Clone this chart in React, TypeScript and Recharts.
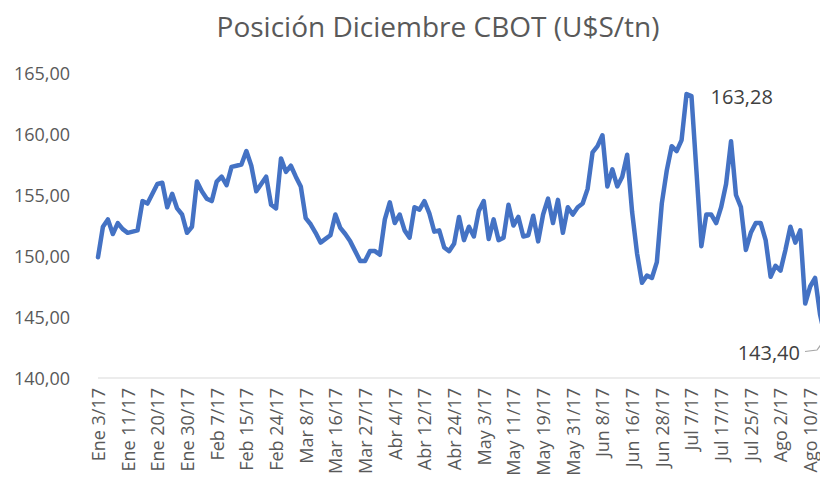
import { LineChart, Line, XAxis, YAxis } from 'recharts';

const TICK_LABELS = [
  'Ene 3/17', 'Ene 11/17', 'Ene 20/17', 'Ene 30/17', 'Feb 7/17', 'Feb 15/17', 'Feb 24/17',
  'Mar 8/17', 'Mar 16/17', 'Mar 27/17', 'Abr 4/17', 'Abr 12/17', 'Abr 24/17', 'May 3/17',
  'May 11/17', 'May 19/17', 'May 31/17', 'Jun 8/17', 'Jun 16/17', 'Jun 28/17', 'Jul 7/17',
  'Jul 17/17', 'Jul 25/17', 'Ago 2/17', 'Ago 10/17',
];
const TICK_STEP = 6;

const PRICES = [
  149.9, 152.4, 153.0, 151.8, 152.7, 152.2, 151.9, 152.0, 152.1, 154.5,
  154.3, 155.1, 155.9, 156.0, 154.0, 155.1, 153.9, 153.4, 151.9, 152.4,
  156.1, 155.3, 154.7, 154.5, 156.1, 156.5, 155.8, 157.3, 157.4, 157.5,
  158.6, 157.4, 155.3, 155.9, 156.5, 154.2, 153.9, 158.0, 156.9, 157.4,
  156.5, 155.7, 153.1, 152.6, 151.9, 151.1, 151.4, 151.7, 153.4, 152.3,
  151.8, 151.2, 150.4, 149.6, 149.6, 150.4, 150.4, 150.1, 153.0, 154.4,
  152.7, 153.4, 152.1, 151.5, 154.0, 153.8, 154.5, 153.5, 152.0, 152.1,
  150.7, 150.4, 151.0, 153.2, 151.3, 152.4, 151.6, 153.7, 154.5, 151.4,
  153.0, 151.3, 151.5, 154.2, 152.5, 153.2, 151.6, 151.7, 153.3, 151.2,
  153.4, 154.7, 152.7, 154.6, 151.9, 154.0, 153.4, 154.0, 154.3, 155.5,
  158.5, 159.0, 159.9, 155.7, 157.1, 155.7, 156.5, 158.3, 153.6, 150.2,
  147.8, 148.4, 148.2, 149.5, 154.3, 157.0, 159.0, 158.6, 159.5, 163.28,
  163.1, 157.0, 150.8, 153.4, 153.4, 152.7, 154.0, 155.9, 159.4, 155.0,
  154.0, 150.5, 151.9, 152.7, 152.7, 151.3, 148.3, 149.2, 148.8, 150.5,
  152.4, 151.1, 152.1, 146.1, 147.5, 148.2, 145.2, 143.4,
];
const LABELLED = [119, 147];

const Y_TICKS = [140, 145, 150, 155, 160, 165];

const data = PRICES.map((v, i) => ({ i, v }));
const xTicks = TICK_LABELS.map((_, k) => k * TICK_STEP);

const FONT = '"Open Sans", sans-serif';
const fmt = (n: number) => n.toFixed(2).replace('.', ',');

function XTick({ x, payload }: any) {
  const label = TICK_LABELS[Math.round(payload.value / TICK_STEP)];
  return (
    <text
      x={x}
      y={388}
      transform={`rotate(-90 ${x} 388)`}
      textAnchor="end"
      dominantBaseline="central"
      fill="#595959"
      fontSize={18}
      fontFamily={FONT}
    >
      {label}
    </text>
  );
}

function YTick({ y, payload }: any) {
  return (
    <text x={70} y={y} textAnchor="end" dominantBaseline="central" fill="#595959" fontSize={18} fontFamily={FONT}>
      {fmt(payload.value)}
    </text>
  );
}

function PointLabel({ x, y, index, value }: any) {
  if (!LABELLED.includes(index)) return null;
  if (index === LABELLED[0]) {
    return (
      <text x={x + 24} y={y + 3} dominantBaseline="central" fill="#404040" fontSize={20} fontFamily={FONT}>
        {fmt(value)}
      </text>
    );
  }
  // last point sits just past the visible edge, so the label hangs below-left with a leader
  return (
    <g>
      <path d={`M${x - 20},${y + 15} L${x - 8},${y + 13.5} L${x - 4},${y + 8}`} stroke="#a6a6a6" fill="none" strokeWidth={1.2} />
      <text x={x - 25} y={y + 16} textAnchor="end" dominantBaseline="central" fill="#404040" fontSize={20} fontFamily={FONT}>
        {fmt(value)}
      </text>
    </g>
  );
}

export default function App() {
  return (
    <div style={{ position: 'fixed', left: 0, top: 0, width: 820, height: 479, background: '#fff', overflow: 'hidden' }}>
      <LineChart width={830} height={479} data={data} margin={{ top: 73, right: 5, bottom: 0, left: 0 }}>
        <text x={438} y={37} textAnchor="middle" fill="#595959" fontSize={28} fontFamily={FONT}>
          Posición Diciembre CBOT (U$S/tn)
        </text>
        <XAxis
          dataKey="i"
          type="number"
          domain={[0, PRICES.length - 1]}
          ticks={xTicks}
          interval={0}
          height={101}
          tick={<XTick />}
          tickLine={false}
          axisLine={{ stroke: '#d9d9d9', strokeWidth: 1 }}
        />
        <YAxis
          domain={[140, 165]}
          ticks={Y_TICKS}
          width={98}
          tick={<YTick />}
          tickLine={false}
          axisLine={false}
        />
        <Line
          dataKey="v"
          stroke="#4472c4"
          strokeWidth={4.5}
          strokeLinejoin="round"
          strokeLinecap="round"
          dot={false}
          isAnimationActive={false}
          label={<PointLabel />}
        />
      </LineChart>
    </div>
  );
}
